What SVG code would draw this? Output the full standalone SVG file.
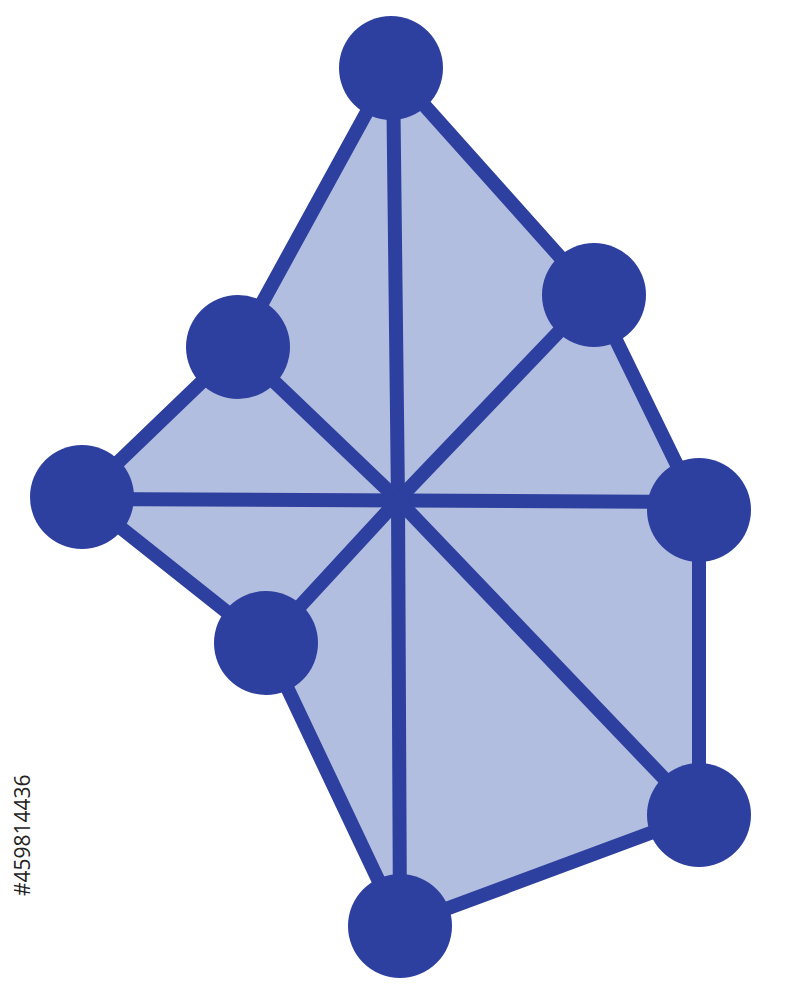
<svg xmlns="http://www.w3.org/2000/svg" width="800" height="1000" viewBox="0 0 800 1000">
<style>
.edge{stroke:#2d3f9f;stroke-width:14;stroke-linecap:round;fill:none}
.node{fill:#2d3f9f}
.id{font-family:"Open Sans","Liberation Sans",Arial,sans-serif;font-size:21px;fill:#222}
</style>
<rect width="800" height="1000" fill="#ffffff"/>
<polygon points="391,68 594,295 699,510 699,815 400,926 266,643 82,497 238,347" fill="#b2bedf"/>
<g id="connectors">
<polyline class="edge" points="391,68 594,295 699,510 699,815 400,926 266,643 82,497 238,347 391,68"/>
<line class="edge" x1="393" y1="68" x2="398" y2="500"/>
<line class="edge" x1="398" y1="500" x2="400" y2="926"/>
<line class="edge" x1="82" y1="499" x2="699" y2="502"/>
<line class="edge" x1="238" y1="347" x2="398" y2="500"/>
<line class="edge" x1="594" y1="295" x2="398" y2="500"/>
<line class="edge" x1="266" y1="643" x2="398" y2="500"/>
<line class="edge" x1="699" y1="815" x2="398" y2="500"/>
</g>
<g id="n-top"><circle class="node" cx="391" cy="68" r="52"/></g>
<g id="n-upper-right"><circle class="node" cx="594" cy="295" r="52"/></g>
<g id="n-upper-left"><circle class="node" cx="238" cy="347" r="52"/></g>
<g id="n-left"><circle class="node" cx="82" cy="497" r="52"/></g>
<g id="n-right"><circle class="node" cx="699" cy="510" r="52"/></g>
<g id="n-lower-left"><circle class="node" cx="266" cy="643" r="52"/></g>
<g id="n-bottom-right"><circle class="node" cx="699" cy="815" r="52"/></g>
<g id="n-bottom"><circle class="node" cx="400" cy="926" r="52"/></g>
<text class="id" transform="translate(30,896) rotate(-90)">#459814436</text>
</svg>
